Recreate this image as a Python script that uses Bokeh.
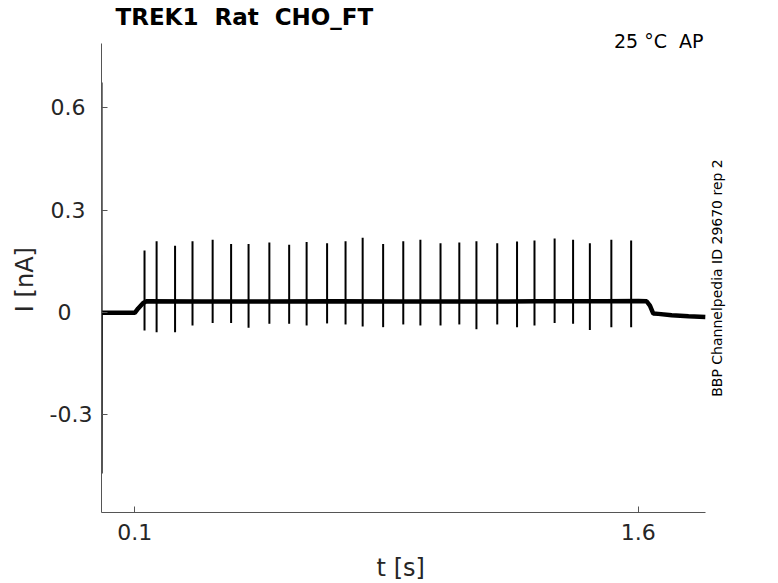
from math import pi
from bokeh.plotting import figure
from bokeh.models import Label, FixedTicker, Range1d, ColumnDataSource
from bokeh.embed import file_html
from bokeh.resources import INLINE

# ---- data ----
title_text = "TREK1\u00a0 Rat\u00a0 CHO_FT"
temp_text = "25 °C\u00a0 AP"
id_text = "BBP Channelpedia ID 29670 rep 2"
x_label = "t [s]\u00a0\u00a0\u00a0\u00a0"
y_label = "I [nA]\u00a0\u00a0"

x_ticks = [0.1, 1.6]
x_tick_labels = ["0.1", "1.6"]
y_ticks = [-0.3, 0.0, 0.3, 0.6]
y_tick_labels = ["-0.3", "0\u00a0\u00a0\u00a0", "0.3\u00a0", "0.6\u00a0"]

# axis extents (data units)
t_min, t_max = 0.0008, 1.80
i_min, i_max = -0.5863, 0.7885

# capacitive transient at the start of the sweep
trans_t = [0.0012, 0.0016, 0.0020, 0.0026]
trans_i = [-0.001, 0.674, -0.472, -0.001]

# holding / step baseline (nA)
base_t = [0.003, 0.100, 0.110, 0.125, 0.135, 0.30, 0.50, 0.70, 0.90, 1.10,
          1.30, 1.50, 1.60, 1.625, 1.635, 1.645, 1.66, 1.70, 1.75, 1.80]
base_i = [-0.001, -0.001, 0.012, 0.028, 0.033, 0.032, 0.032, 0.033, 0.032, 0.032,
          0.033, 0.033, 0.034, 0.033, 0.020, -0.003, -0.004, -0.008, -0.011, -0.013]

# action-potential-clamp spikes: time (s), peak (nA), trough (nA)
spike_t = [0.129, 0.165, 0.220, 0.272, 0.332, 0.387, 0.439, 0.501, 0.560, 0.612,
           0.673, 0.728, 0.779, 0.840, 0.900, 0.951, 1.011, 1.067, 1.118, 1.180,
           1.239, 1.291, 1.351, 1.406, 1.456, 1.520, 1.579]
spike_peak = [0.182, 0.209, 0.196, 0.209, 0.213, 0.201, 0.201, 0.205, 0.199, 0.207,
              0.203, 0.209, 0.219, 0.201, 0.209, 0.213, 0.203, 0.205, 0.209, 0.203,
              0.208, 0.211, 0.217, 0.213, 0.203, 0.213, 0.211]
spike_trough = [-0.053, -0.058, -0.058, -0.038, -0.031, -0.031, -0.045, -0.033, -0.033, -0.038,
                -0.032, -0.035, -0.041, -0.043, -0.035, -0.038, -0.038, -0.035, -0.049, -0.035,
                -0.043, -0.038, -0.031, -0.033, -0.051, -0.043, -0.043]

FONT = "DejaVu Sans"
TXT = "#262626"
AX = "#555555"

# frame is larger than the axes so that the corner texts can sit inside it
PX_PER_S = 335.6
PX_PER_NA = 341.1
FRAME_W, FRAME_H = 629, 481
x_end = t_min + FRAME_W / PX_PER_S
y_end = i_min + FRAME_H / PX_PER_NA

p = figure(
    frame_width=FRAME_W, frame_height=FRAME_H,
    x_range=Range1d(t_min, x_end), y_range=Range1d(i_min, y_end),
    output_backend="svg", toolbar_location=None,
    min_border_left=101, min_border_right=40, min_border_top=31, min_border_bottom=60,
    title=title_text,
)
p.outline_line_color = None
p.grid.visible = False
p.background_fill_color = "white"
p.border_fill_color = "white"

p.title.text_font = FONT
p.title.text_font_size = "23px"
p.title.text_font_style = "bold"
p.title.text_color = "black"
p.title.align = "left"
p.title.offset = 14
p.title.standoff = 3

for ax in (p.xaxis[0], p.yaxis[0]):
    ax.axis_line_color = AX
    ax.major_tick_line_color = AX
    ax.major_tick_in = 6
    ax.major_tick_out = 0
    ax.minor_tick_line_color = None
    ax.major_label_text_font = FONT
    ax.major_label_text_font_size = "22px"
    ax.major_label_text_color = TXT
    ax.axis_label_text_font = FONT
    ax.axis_label_text_font_size = "24px"
    ax.axis_label_text_font_style = "normal"
    ax.axis_label_text_color = TXT

p.xaxis.bounds = (t_min, t_max)
p.yaxis.bounds = (i_min, i_max)
p.xaxis.ticker = FixedTicker(ticks=x_ticks)
p.xaxis.major_label_overrides = dict(zip(x_ticks, x_tick_labels))
p.yaxis.ticker = FixedTicker(ticks=y_ticks)
p.yaxis.major_label_overrides = dict(zip(y_ticks, y_tick_labels))
p.xaxis.axis_label = x_label
p.yaxis.axis_label = y_label
p.xaxis.major_label_standoff = 11
p.yaxis.major_label_standoff = 9
p.xaxis.axis_label_standoff = 11
p.yaxis.axis_label_standoff = 8

# trace
p.line(base_t, base_i, line_color="black", line_width=4.5)
p.line(trans_t, trans_i, line_color="black", line_width=1.5)
src = ColumnDataSource(dict(t=spike_t, top=spike_peak, bot=spike_trough))
p.segment(x0="t", y0="bot", x1="t", y1="top", source=src, line_color="black", line_width=2)

# annotations (screen units relative to the frame's bottom-left corner)
p.add_layout(Label(x=602, y=471.5, x_units="screen", y_units="screen", text=temp_text,
                   text_font=FONT, text_font_size="19px", text_color="black",
                   text_align="right", text_baseline="alphabetic"))
p.add_layout(Label(x=615.5, y=234.5, x_units="screen", y_units="screen", text=id_text,
                   angle=pi / 2, text_font=FONT, text_font_size="14px", text_color="black",
                   text_align="center", text_baseline="middle"))

open("out.html", "w").write(file_html(p, INLINE))
